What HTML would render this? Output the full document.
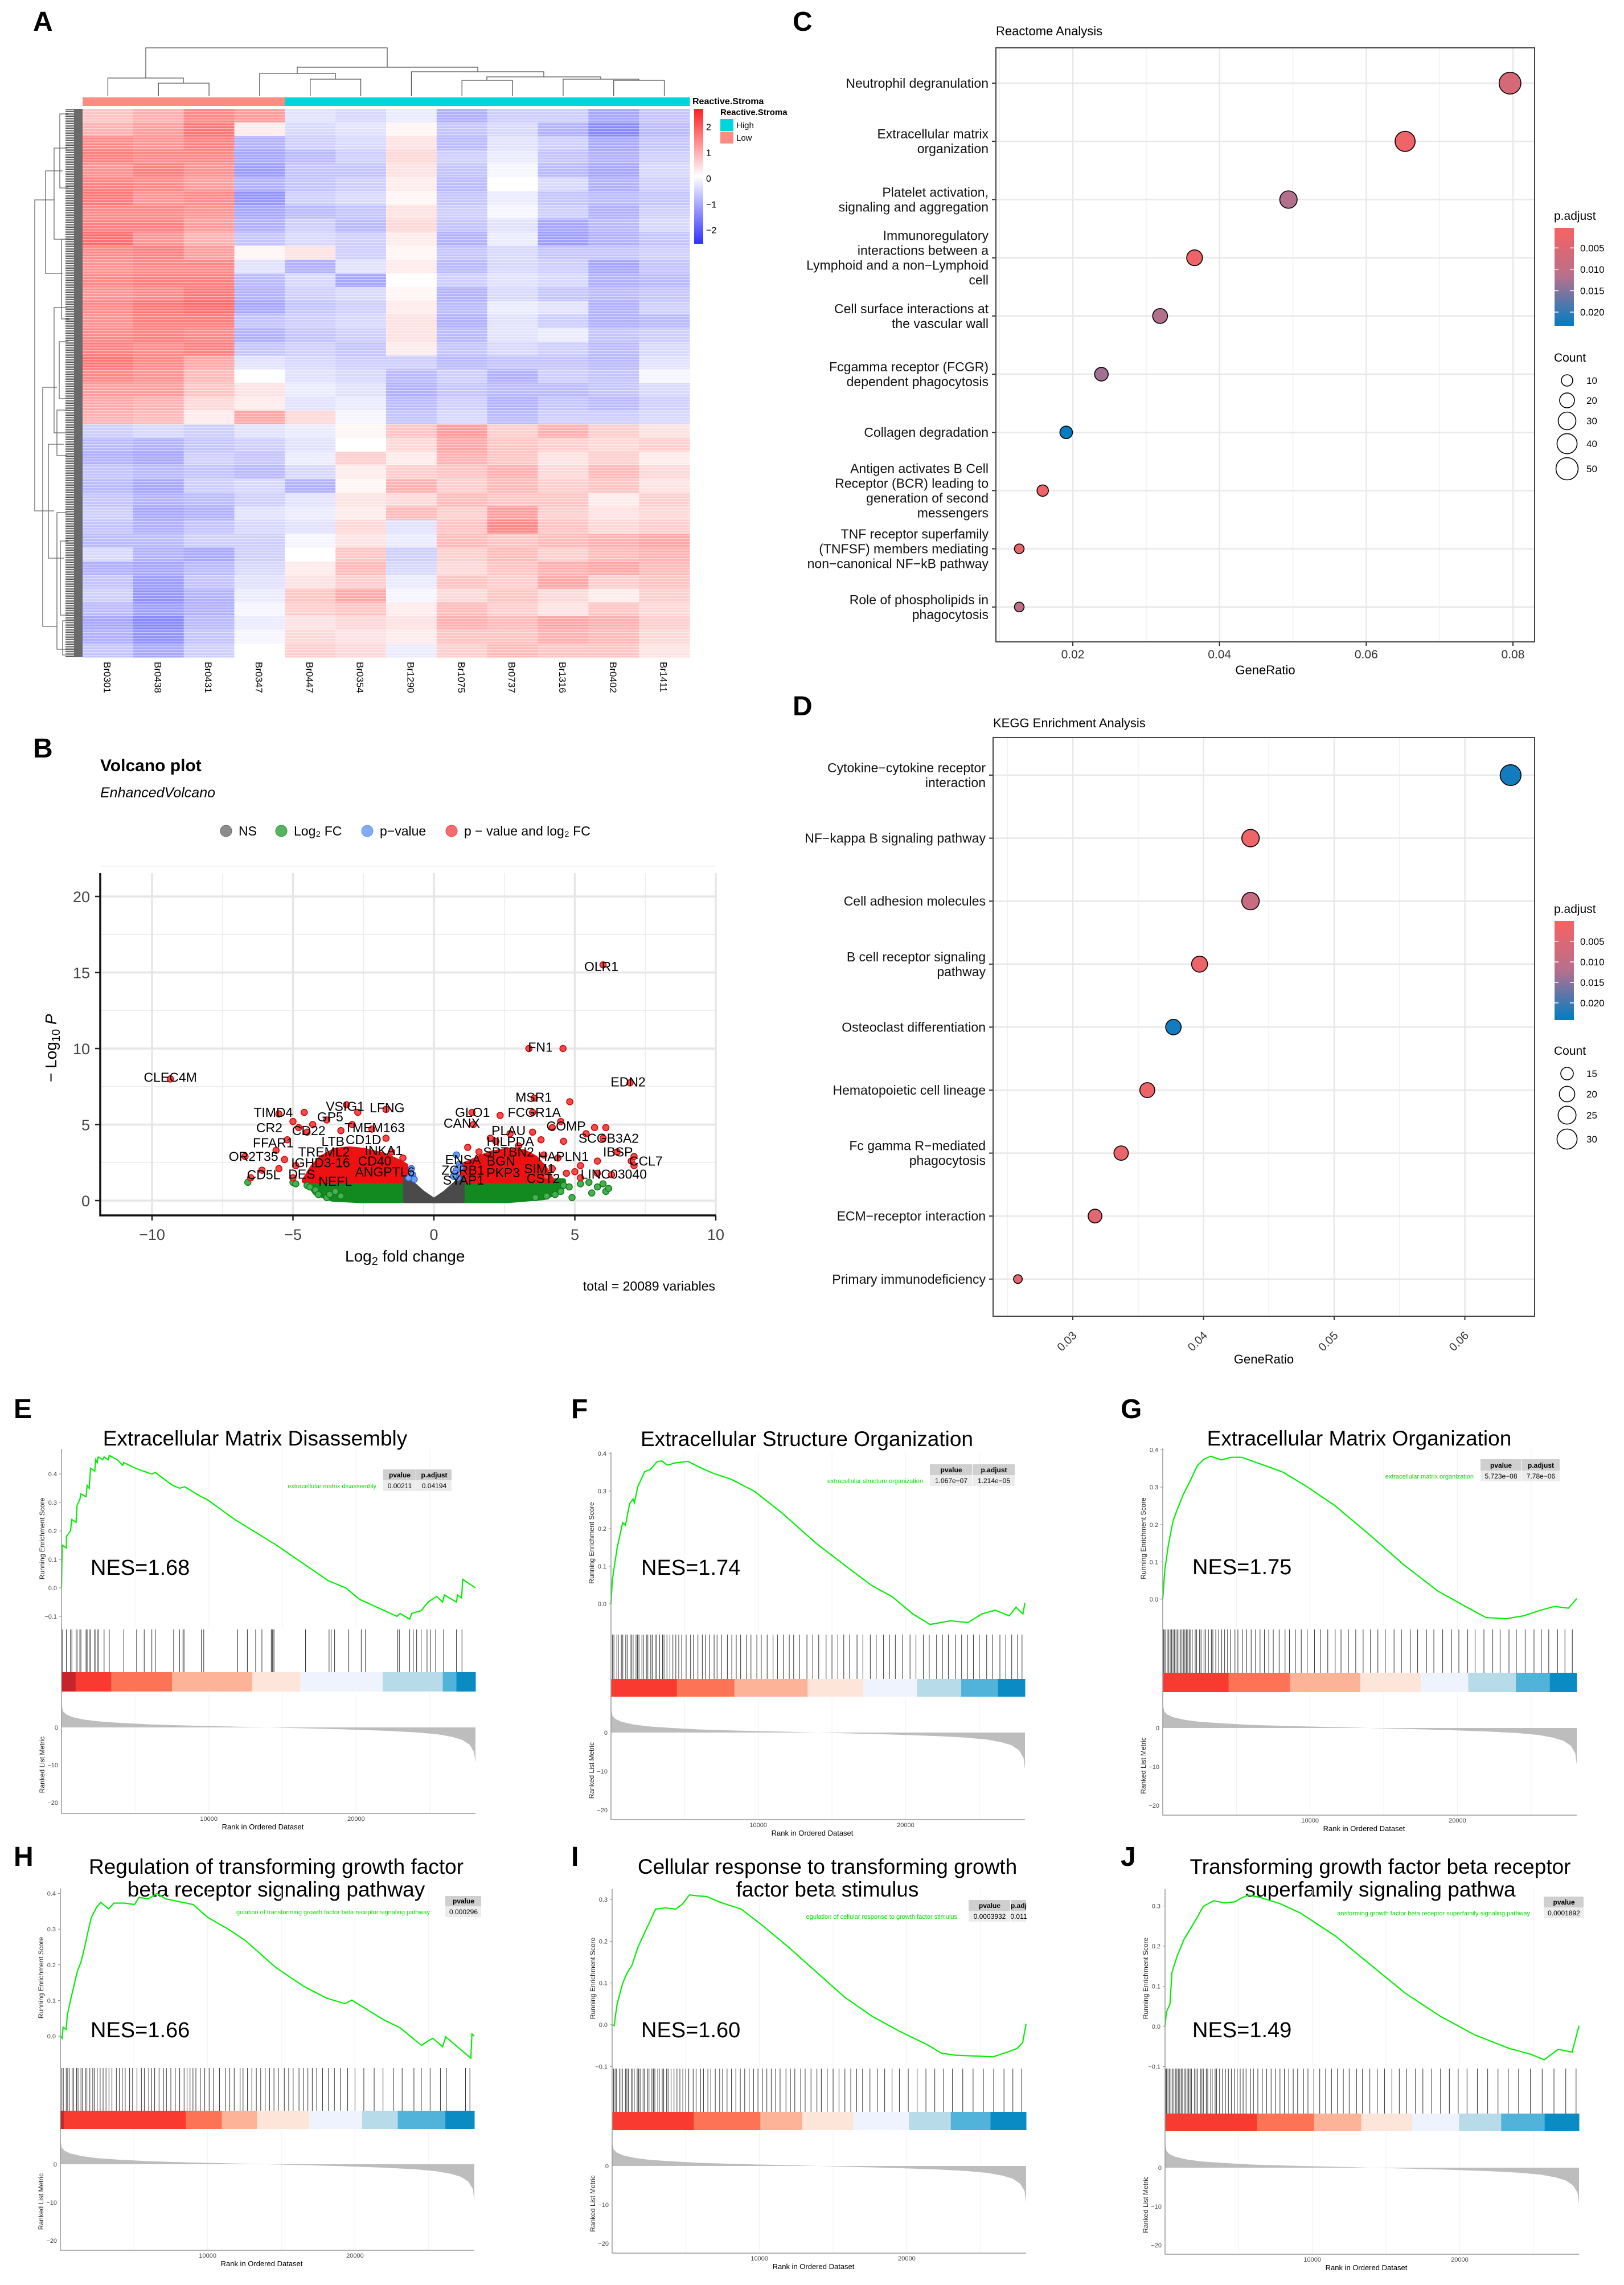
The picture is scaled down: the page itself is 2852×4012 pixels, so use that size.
<!DOCTYPE html>
<html><head><meta charset="utf-8">
<style>
html,body{margin:0;padding:0;background:#fff;}
svg{display:block;font-family:"Liberation Sans",Arial,sans-serif;}
</style></head>
<body>
<svg id="fig" xmlns="http://www.w3.org/2000/svg" width="2852" height="4012" viewBox="0 0 2852 4012">
<defs>
<pattern id="stripes" width="8" height="5" patternUnits="userSpaceOnUse"><rect x="0" y="0" width="8" height="1.5" fill="#fff" opacity="0.45"/></pattern>
<pattern id="leafLines" width="30" height="3" patternUnits="userSpaceOnUse"><rect x="0" y="0" width="30" height="1.6" fill="#555"/></pattern>
<linearGradient id="hmLegendGrad" x1="0" y1="0" x2="0" y2="1">
<stop offset="0" stop-color="#ff2020"/><stop offset="0.5" stop-color="#ffffff"/><stop offset="1" stop-color="#3030ff"/></linearGradient>
<linearGradient id="padjGrad" x1="0" y1="0" x2="0" y2="1">
<stop offset="0" stop-color="#f86262"/><stop offset="0.5" stop-color="#b6708c"/><stop offset="1" stop-color="#007dc3"/></linearGradient>
<clipPath id="volcClip"><rect x="176" y="1533" width="1081" height="601"/></clipPath>
</defs>
<rect x="0" y="0" width="2852" height="4012" fill="#fff"/>
<g font-weight="bold" font-size="48" fill="#000">
<text x="58" y="54">A</text>
<text x="58" y="1330">B</text>
<text x="1392" y="54">C</text>
<text x="1392" y="1256">D</text>
<text x="24" y="2490">E</text>
<text x="1003" y="2490">F</text>
<text x="1968" y="2490">G</text>
<text x="24" y="3276">H</text>
<text x="1003" y="3276">I</text>
<text x="1968" y="3276">J</text>
</g>
<g id="heatmap"></g>
<g id="volcano"></g>
<g id="dotC"></g>
<g id="dotD"></g>
<g id="gsea"></g>
</svg>
<script>
// ===================== DATA =====================
const hmCols=['Br0301','Br0438','Br0431','Br0347','Br0447','Br0354','Br1290','Br1075','Br0737','Br1316','Br0402','Br1411'];
const hmGroups=['Low','Low','Low','Low','High','High','High','High','High','High','High','High'];
const hmRows=[
[0.6,0.8,1.2,1.0,-0.3,-0.4,-0.2,-0.8,-0.5,-0.5,-0.9,-0.6],
[0.8,1.0,1.4,0.2,-0.4,-0.3,0.1,-0.6,-0.4,-0.8,-1.2,-0.7],
[1.2,1.1,1.3,-0.8,-0.5,-0.4,0.3,-0.7,-0.3,-0.5,-0.9,-0.6],
[1.3,1.2,1.2,-0.9,-0.7,-0.5,0.4,-0.5,-0.2,-0.6,-0.8,-0.5],
[1.1,1.3,1.1,-1.0,-0.6,-0.6,0.3,-0.6,-0.1,-0.7,-0.9,-0.4],
[1.3,1.2,1.0,-0.8,-0.6,-0.5,0.2,-0.7,0.0,-0.4,-0.8,-0.5],
[1.4,1.1,1.2,-1.1,-0.5,-0.4,0.1,-0.6,-0.2,-0.6,-0.7,-0.6],
[1.2,1.2,1.1,-0.9,-0.7,-0.6,0.3,-0.5,-0.1,-0.5,-0.8,-0.5],
[1.3,1.3,1.0,-0.8,-0.5,-0.7,0.4,-0.6,-0.3,-0.9,-0.7,-0.4],
[1.5,1.1,0.8,-0.6,-0.4,-0.5,0.2,-0.8,-0.2,-1.0,-0.8,-0.6],
[1.2,1.3,1.0,0.1,0.3,-0.5,0.1,-0.6,-0.4,-0.6,-0.6,-0.5],
[1.1,1.2,1.2,-0.3,-0.8,-0.3,0.2,-0.7,-0.4,-0.5,-0.9,-0.6],
[1.2,1.3,1.3,-0.7,-0.4,-0.9,0.0,-0.5,-0.3,-0.4,-0.8,-0.7],
[1.1,1.2,1.4,-0.8,-0.5,-0.4,0.1,-0.8,-0.4,-0.6,-0.7,-0.6],
[1.2,1.4,1.5,-0.9,-0.6,-0.5,0.2,-0.7,-0.2,-0.3,-0.8,-0.5],
[1.1,1.3,1.3,-0.6,-0.5,-0.4,0.3,-0.8,-0.3,-0.5,-0.8,-0.7],
[1.2,1.3,1.2,-0.8,-0.6,-0.5,0.3,-0.7,-0.3,-0.2,-0.6,-0.5],
[1.3,1.2,1.3,-0.6,-0.5,-0.6,0.2,-0.6,-0.4,-0.5,-0.7,-0.4],
[1.4,1.2,0.9,-0.3,-0.4,-0.5,-0.5,-0.7,-0.6,-0.6,-0.7,-0.3],
[1.2,1.1,0.7,0.0,-0.3,-0.4,-0.7,-0.5,-0.8,-0.5,-0.6,-0.1],
[1.0,1.0,0.6,0.3,-0.2,-0.3,-0.8,-0.6,-0.7,-0.7,-0.6,-0.4],
[0.9,0.8,0.4,0.2,-0.3,-0.2,-0.7,-0.5,-0.8,-0.6,-0.7,-0.5],
[0.8,0.7,0.2,0.9,0.4,-0.1,-0.6,-0.4,-0.7,-0.5,-0.5,-0.4],
[-0.5,-0.4,-0.5,-0.3,-0.2,0.1,0.6,1.0,0.5,0.8,0.5,0.3],
[-0.7,-0.8,-0.6,-0.5,-0.3,0.0,0.4,0.9,0.6,0.5,0.4,0.5],
[-0.8,-0.9,-0.5,-0.6,-0.2,0.5,0.2,0.8,0.6,0.3,0.5,0.2],
[-0.6,-0.7,-0.6,-0.7,-0.4,0.2,0.5,0.6,0.8,0.4,0.7,0.4],
[-0.7,-0.9,-0.5,-0.4,-0.8,0.1,0.8,0.5,0.7,0.5,0.6,0.3],
[-0.6,-0.8,-0.7,-0.5,-0.3,0.3,0.4,0.7,0.6,0.6,0.2,0.5],
[-0.5,-0.9,-0.8,-0.3,-0.2,0.2,0.7,0.5,1.0,0.5,0.3,0.4],
[-0.6,-0.8,-0.6,-0.4,-0.3,0.4,-0.3,0.6,1.2,0.6,0.4,0.5],
[-0.7,-0.7,-0.5,-0.5,-0.1,0.3,-0.2,0.7,0.6,0.7,0.8,0.9],
[-0.4,-0.8,-0.9,-0.5,0.0,0.6,-0.5,0.5,0.7,0.5,0.7,0.8],
[-0.8,-0.9,-0.7,-0.4,0.2,0.7,-0.4,0.4,0.6,0.8,0.9,0.7],
[-0.6,-1.0,-0.6,-0.3,0.3,0.5,-0.2,0.6,0.5,0.9,0.5,0.6],
[-0.5,-1.1,-0.8,-0.2,0.6,0.9,-0.1,0.4,0.6,0.4,0.2,0.5],
[-0.7,-1.0,-0.8,-0.1,0.5,0.6,0.2,0.7,0.5,0.3,0.6,0.4],
[-0.9,-1.2,-0.7,-0.2,0.3,0.4,0.3,0.8,0.7,0.9,0.8,0.5],
[-0.8,-1.1,-0.6,-0.1,0.4,0.3,0.2,0.6,0.6,0.8,0.7,0.4],
[-0.6,-0.9,-0.5,0.0,0.5,0.4,-0.2,0.5,0.7,0.6,0.6,0.3]
];
const hmLegendTicks=[2,1,0,-1,-2];

const volcXTicks=[-10,-5,0,5,10];
const volcYTicks=[0,5,10,15,20];
const greyEnvX=[-1,-1,-0.7,-0.4,0,0.4,0.7,1,1];
const greyEnvY=[0,1.5,1.0,0.5,0,0.5,1.0,1.5,0];
const greenEnvLX=[-1,-1,-4.5,-4.2,-3.6,-2.6];
const greenEnvLY=[0,1.3,1.3,0.5,0.1,0];
const greenEnvRX=[1,1,4.6,4.4,3.9,2.6];
const greenEnvRY=[0,1.3,1.3,0.6,0.2,0];
const redEnvLX=[-1,-1,-1.3,-1.8,-2.5,-3.0,-3.5,-4.0,-4.3,-4.5,-4.6];
const redEnvLY=[1.3,2.3,2.6,3.0,3.3,3.4,3.3,2.8,2.2,1.6,1.3];
const redEnvRX=[1,1,1.5,2.0,2.6,3.2,3.6,3.9,4.1,4.2];
const redEnvRY=[1.3,2.3,2.7,3.1,3.3,3.2,2.8,2.2,1.6,1.3];
const redPtX=[-9.35,6.0,3.37,4.58,6.96,3.56,4.82,-4.6,-5.5,-3.1,-2.7,-1.7,1.35,3.5,2.35,1.4,4.5,4.2,5.7,6.1,5.4,6.0,3.5,3.8,4.6,6.5,7.0,7.1,7.1,5.8,5.2,5.8,5.2,6.3,5.0,-6.5,-6.1,-5.5,-5.0,-6.7,-5.6,-5.2,-4.8,-5.0,-4.5,-4.3,-3.8,-3.3,-2.9,-2.2,-1.7,-1.5,-1.1,-5.3,-4.9,1.2,1.6,2.2,2.0,2.7,3.0,3.9,4.4,4.2,4.0,4.7];
const redPtY=[8.0,15.5,10,10,7.75,6.74,6.5,5.8,5.7,6.3,5.8,6.0,5.8,5.8,5.6,5.0,5.2,4.8,4.8,4.8,4.4,4.1,4.5,4.0,3.9,3.2,2.6,2.9,2.3,2.6,2.3,1.8,1.5,1.7,1.9,1.5,2.0,2.1,1.5,2.9,3.3,4.0,4.8,5.2,4.5,5.0,5.3,4.6,5.0,4.7,4.1,3.2,2.8,2.7,2.3,3.5,3.2,3.9,4.1,4.4,3.6,3.0,2.8,2.1,1.6,1.8];
const greenPtX=[-6.6,-5.0,-4.9,-4.2,-4.1,-3.8,-3.7,-3.5,-3.3,5.2,5.5,5.8,6.0,6.1,6.2,5.6,4.8,4.6,4.5,4.3,4.9,4.0,3.6,-4.5,-4.4];
const greenPtY=[1.2,1.2,1.1,0.7,0.4,0.2,0.4,0.6,0.3,1.1,1.2,0.9,1.1,0.6,0.8,0.5,0.9,1.0,0.6,0.4,0.2,0.3,0.2,1.0,0.9];
const bluePtX=[-0.8,-0.75,-0.7,-0.9,0.8,0.9,0.8,0.75,0.85,0.95,0.7];
const bluePtY=[2.1,1.7,1.4,1.5,3.0,2.4,2.0,1.8,1.5,2.2,1.6];
const geneLabels=['OLR1','FN1','CLEC4M','EDN2','MSR1','GLO1','FCGR1A','VSIG1','LFNG','TIMD4','GP5','CANX','CR2','CD22','TMEM163','COMP','PLAU','SCGB3A2','FFAR1','LTB','CD1D','HILPDA','TREML2','INKA1','SPTBN2','IBSP','OR2T35','HAPLN1','IGHD3-16','CD40','ENSA','BGN','CCL7','SIM1','ZCRB1','PKP3','ANGPTL6','CD5L','DES','LINC03040','NEFL','CST2','SYAP1'];
const geneLabX=[5.94,3.78,-9.35,6.89,3.54,1.37,3.56,-3.15,-1.66,-5.7,-3.68,0.99,-5.84,-4.44,-2.1,4.69,2.65,6.2,-5.7,-3.58,-2.5,2.71,-3.9,-1.78,2.65,6.53,-6.4,4.59,-4.02,-2.1,1.03,2.38,7.52,3.74,1.03,2.46,-1.74,-6.04,-4.69,6.38,-3.5,3.88,1.05];
const geneLabY=[15.4,10.1,8.1,7.8,6.8,5.8,5.8,6.2,6.1,5.8,5.5,5.1,4.8,4.6,4.8,4.9,4.6,4.1,3.8,3.9,4.0,3.9,3.2,3.3,3.2,3.2,2.9,2.9,2.5,2.6,2.7,2.6,2.6,2.1,2.0,1.84,1.9,1.7,1.75,1.75,1.27,1.46,1.35];

const cTerms=['Neutrophil degranulation','Extracellular matrix\norganization','Platelet activation,\nsignaling and aggregation','Immunoregulatory\ninteractions between a\nLymphoid and a non\u2212Lymphoid\ncell','Cell surface interactions at\nthe vascular wall','Fcgamma receptor (FCGR)\ndependent phagocytosis','Collagen degradation','Antigen activates B Cell\nReceptor (BCR) leading to\ngeneration of second\nmessengers','TNF receptor superfamily\n(TNFSF) members mediating\nnon\u2212canonical NF\u2212kB pathway','Role of phospholipids in\nphagocytosis'];
const cRatio=[0.0796,0.0653,0.0494,0.0366,0.0319,0.0239,0.0191,0.0159,0.0127,0.0127];
const cCount=[48,40,29,23,20,16,13,10,6,6];
const cPadj=[0.006,0.002,0.012,0.002,0.012,0.013,0.023,0.002,0.003,0.010];
const cXTicks=[0.02,0.04,0.06,0.08];
const cPTicks=[0.005,0.010,0.015,0.020];
const cCountTicks=[10,20,30,40,50];

const dTerms=['Cytokine\u2212cytokine receptor\ninteraction','NF\u2212kappa B signaling pathway','Cell adhesion molecules','B cell receptor signaling\npathway','Osteoclast differentiation','Hematopoietic cell lineage','Fc gamma R\u2212mediated\nphagocytosis','ECM\u2212receptor interaction','Primary immunodeficiency'];
const dRatio=[0.0635,0.0436,0.0436,0.0397,0.0377,0.0357,0.0337,0.0317,0.0258];
const dCount=[32,24,24,21,20,19,18,17,10];
const dPadj=[0.023,0.002,0.009,0.002,0.023,0.002,0.003,0.004,0.003];
const dXTicks=[0.03,0.04,0.05,0.06];
const dPTicks=[0.005,0.010,0.015,0.020];
const dCountTicks=[15,20,25,30];

const metricRank=[0,100,300,700,1500,2500,4000,6000,9000,12000,14000,16000,19000,22000,24000,25500,26500,27200,27700,28000,28100];
const metricVal=[6.2,4.3,3.5,2.8,2.1,1.6,1.2,0.8,0.45,0.2,0.0,-0.2,-0.5,-0.9,-1.3,-1.8,-2.5,-3.3,-4.6,-6.5,-9.5];
const rankTicks=[10000,20000];
const segColors=['#c5242a','#f83a30','#fc7455','#fcb398','#fee5d9','#eef3fd','#b8dbea','#52b3da','#0a8bc4'];

// E (hits in raw ranks)
const esRankE=[0,47,329,329,611,705,987,1057,1245,1316,1668,1739,1880,1974,2256,2326,2420,2491,2796,2890,3172,3242,3783,4159,4229,5028,5545,6133,6368,7542,8012,8365,9492,9892,11771,14591,16564,18115,19290,20230,22767,22979,23637,23754,24412,24882,25469,25869,25986,26809,26879,27161,27231,28100];
const esValE=[0,0.15,0.14,0.18,0.2,0.24,0.23,0.29,0.31,0.33,0.32,0.36,0.35,0.42,0.41,0.45,0.44,0.46,0.45,0.46,0.45,0.465,0.45,0.43,0.44,0.42,0.41,0.40,0.405,0.36,0.35,0.355,0.32,0.31,0.24,0.15,0.08,0.025,0.0,-0.04,-0.1,-0.09,-0.11,-0.09,-0.08,-0.05,-0.03,-0.05,-0.025,-0.05,-0.025,-0.035,0.03,0.0];
const hitsE=[47,329,611,705,987,1057,1245,1316,1668,1739,1880,1974,2256,2326,2420,2491,2890,3242,4229,5098,5615,6132,6367,7612,8012,8247,8317,9492,9656,11959,12617,13181,13604,14238,14309,14356,14426,16564,18162,18303,18538,19501,20347,20629,22814,22931,23636,23871,24106,24411,24811,25046,25398,25938,26808,27184];
const segE=[0,0.034,0.120,0.267,0.460,0.576,0.776,0.921,0.954,1];
// F (hits in hundreds of ranks)
const esRankF=[0,93,420,793,980,1260,1494,1587,1821,2287,2661,3128,3455,3828,4388,5228,6022,6955,8122,9756,11623,13957,16291,17692,19092,20493,21660,23060,24227,25161,26094,27028,27495,27962,28100];
const esValF=[0,0.064,0.15,0.216,0.209,0.266,0.279,0.269,0.312,0.352,0.357,0.378,0.38,0.369,0.375,0.379,0.363,0.347,0.332,0.299,0.241,0.16,0.09,0.049,0.019,-0.027,-0.055,-0.045,-0.05,-0.027,-0.017,-0.032,-0.009,-0.027,0.003];
const hitsF=[1,2,4,5,7,8,10,11,13,14,15,17,18,19,21,22,24,25,27,28,30,31,33,35,36,38,40,42,44,46,48,51,54,56,59,62,64,67,70,72,75,79,82,85,88,92,95,99,102,106,110,113,117,121,124,128,133,137,141,146,150,154,158,162,167,171,176,180,185,189,193,198,203,207,212,216,221,225,229,234,238,242,246,250,255,259,264,268,272,276,279];
const segF=[0,0.159,0.298,0.475,0.609,0.739,0.846,0.935,1];
const esRankG=[0,140,373,700,1027,1400,1867,2334,2801,3268,3968,4668,5368,6068,7002,8169,9803,11670,14004,16338,18672,20539,21939,23340,24507,25674,26607,27541,28100];
const esValG=[0,0.078,0.144,0.21,0.245,0.281,0.317,0.357,0.375,0.383,0.373,0.38,0.38,0.37,0.357,0.34,0.301,0.251,0.174,0.093,0.022,-0.019,-0.049,-0.052,-0.044,-0.029,-0.019,-0.024,0.002];
const hitsG=[0.5,1,2,3,4,5,6,7,8,9,10,11,12,13,14,15,16,17,18,19,20,22,23,25,26,28,29,31,33,34,36,38,40,42,44,46,49,51,54,57,60,63,66,69,72,75,79,83,86,90,94,98,103,107,112,117,121,126,131,136,141,146,151,157,162,168,173,179,184,190,196,201,207,212,218,224,229,235,240,246,252,257,262,268,273,278];
const segG=[0,0.159,0.307,0.477,0.623,0.738,0.853,0.935,1];
const esRankH=[0,117,187,398,468,703,937,1171,1405,1639,1873,2108,2459,2740,3278,3630,4332,5035,5339,5972,6557,7143,8079,9016,10000,11357,12528,14636,16509,18031,19318,19787,20958,21895,23066,24518,24939,25290,25946,26157,27866,27936,28100];
const esValH=[0,-0.006,0.025,0.019,0.059,0.103,0.144,0.184,0.208,0.248,0.293,0.333,0.361,0.375,0.357,0.373,0.373,0.369,0.389,0.385,0.4,0.385,0.377,0.369,0.333,0.301,0.269,0.192,0.14,0.107,0.091,0.101,0.071,0.047,0.023,-0.026,-0.014,-0.006,-0.03,-0.002,-0.062,0.006,0];
const hitsH=[1,2,4,5,6,8,9,11,12,14,15,17,18,20,22,23,25,27,29,31,33,35,38,40,42,44,47,49,52,55,57,60,62,64,67,70,72,75,78,81,84,86,88,90,92,95,98,101,104,108,112,115,118,122,124,127,130,133,136,139,142,145,148,152,155,158,162,165,168,171,174,178,182,186,190,195,200,206,213,219,226,232,240,245,251,258,262,275,278];
const segH=[0,0.008,0.303,0.39,0.475,0.6,0.729,0.815,0.93,1];
const esRankI=[0,140,328,702,1030,1358,1733,2201,2576,2950,3606,4308,4776,5245,5713,6415,7352,8757,10161,12034,13908,15781,17654,19527,21400,22337,23273,24678,25849,26786,27488,27863,28100];
const esValI=[0,-0.002,0.048,0.098,0.125,0.143,0.184,0.22,0.248,0.277,0.28,0.277,0.289,0.311,0.309,0.307,0.293,0.277,0.239,0.184,0.125,0.066,0.02,-0.016,-0.048,-0.068,-0.073,-0.075,-0.077,-0.066,-0.057,-0.043,0.002];
const hitsI=[1,2,3,5,6,7,9,10,11,13,14,15,17,18,19,21,22,24,25,27,28,29,31,32,34,35,37,38,40,42,44,46,48,50,52,55,57,60,62,65,67,70,73,75,78,81,84,87,90,93,96,99,102,105,108,111,114,118,121,124,128,131,135,139,142,146,150,154,158,162,166,170,175,180,185,190,195,201,207,213,219,225,231,238,245,252,259,266,272,278];
const segI=[0,0.197,0.358,0.459,0.582,0.717,0.818,0.914,1];
const esRankJ=[0,94,330,472,803,1275,1653,2125,2598,3306,4015,4723,5195,5668,6376,7793,9210,11571,13933,16294,18656,21018,23379,24796,25741,26685,27630,28100];
const esValJ=[0,0.036,0.055,0.135,0.173,0.216,0.239,0.268,0.299,0.313,0.308,0.31,0.32,0.327,0.322,0.306,0.282,0.225,0.154,0.083,0.026,-0.021,-0.055,-0.069,-0.083,-0.057,-0.064,0.002];
const hitsJ=[0.5,1,2,3,4,5,6,7,8,9,10,11,12,13,14,15,16,17,18,20,21,22,24,25,26,28,29,31,32,34,35,37,39,41,43,45,47,49,51,53,55,58,60,63,66,69,72,75,78,81,84,87,90,94,97,101,105,109,113,117,121,125,130,134,139,144,149,154,159,164,170,175,181,187,193,199,205,212,219,226,233,240,248,256,264,272,279];
const segJ=[0,0.222,0.360,0.474,0.597,0.710,0.812,0.917,1];

// ===================== HELPERS =====================
const NS='http://www.w3.org/2000/svg';
function mk(tag,attrs,parent){const e=document.createElementNS(NS,tag);for(const k in attrs)e.setAttribute(k,attrs[k]);parent.appendChild(e);return e;}
function tx(str,attrs,parent){const e=mk('text',attrs,parent);e.textContent=str;return e;}
function hmColor(v){let t=Math.max(-1,Math.min(1,v/2.6));
 if(t>=0){const c=Math.round(255*(1-t));return 'rgb(255,'+c+','+c+')';}
 const c=Math.round(255*(1+t));return 'rgb('+c+','+c+',255)';}
function padjColor(p,pmin,pmax){let t=Math.max(0,Math.min(1,(p-pmin)/(pmax-pmin)));
 const s=[[248,98,98],[182,112,140],[0,125,195]];let a,b,u;
 if(t<0.5){a=s[0];b=s[1];u=t/0.5;}else{a=s[1];b=s[2];u=(t-0.5)/0.5;}
 return 'rgb('+a.map((x,i)=>Math.round(x+(b[i]-x)*u)).join(',')+')';}

// ===================== HEATMAP =====================
(function(){
const g=document.getElementById('heatmap');
const X0=145,X1=1211,Y0=191,Y1=1154;
const cw=(X1-X0)/hmCols.length, rh=(Y1-Y0)/hmRows.length;
const colX=i=>X0+cw*(i+0.5);
hmRows.forEach((row,r)=>{row.forEach((v,c)=>{
 const el=mk('rect',{x:X0+c*cw,y:Y0+r*rh,width:cw+0.5,height:rh+0.5,fill:hmColor(v)},g);
 
 
});});
let el=mk('rect',{x:X0,y:Y0,width:X1-X0,height:Y1-Y0,fill:'url(#stripes)'},g);


hmGroups.forEach((gr,c)=>{
 const a=mk('rect',{x:X0+c*cw,y:171,width:cw+0.5,height:15,fill:gr==='Low'?'#fa8c82':'#00d5dc'},g);
 
 
});
hmCols.forEach((nm,c)=>{
 const t=tx(nm,{x:colX(c)-7,y:1162,'font-size':17,transform:'rotate(90 '+(colX(c)-7)+' 1162)'},g);
 
 
});
const den=[[colX(1),colX(2),146,169,169],[colX(0),322,137,169,146],[colX(4),colX(5),139,169,169],[colX(3),589,129,169,139],[colX(7),colX(8),141,169,169],[colX(10),colX(11),141,169,169],[colX(9),1122,139,169,141],[855,1055,135,141,139],[colX(6),955,126,169,135],[522,839,118,129,126],[256,680,84,137,118]];
den.forEach(d=>{
 const p=mk('path',{d:'M'+d[0]+' '+d[3]+'V'+d[2]+'H'+d[1]+'V'+d[4],fill:'none',stroke:'#555','stroke-width':1.3},g);
 
 
});
const rd=mk('rect',{x:115,y:Y0,width:30,height:Y1-Y0,fill:'url(#leafLines)'},g);


const rd2=mk('rect',{x:130,y:Y0,width:15,height:Y1-Y0,fill:'#6a6a6a'},g);


const rdl=[[61,351,897,95],[95,260,420,118],[95,540,760,118],[75,680,1100,100],[100,720,800,118],[100,900,1140,118],[80,300,480,110],[85,780,980,112],[105,200,330,120],[108,420,560,122],[104,600,700,120],[106,950,1080,120],[110,1090,1150,124]];
rdl.forEach(d=>{
 const p=mk('path',{d:'M'+d[3]+' '+d[1]+'H'+d[0]+'V'+d[2]+'H'+d[3],fill:'none',stroke:'#666','stroke-width':1.3},g);
 
 
});
const lt=tx('Reactive.Stroma',{x:1216,y:183,'font-size':16,'font-weight':'bold'},g);


const cb=mk('rect',{x:1219,y:191,width:16,height:237,fill:'url(#hmLegendGrad)'},g);


hmLegendTicks.forEach(v=>{
 const y=313-v*45.3;
 const t=tx(String(v).replace('-','\u2212'),{x:1240,y:y+6,'font-size':16},g);
 
 
});
const lt2=tx('Reactive.Stroma',{x:1265,y:202,'font-size':15,'font-weight':'bold'},g);


[['High','#00d5dc',209],['Low','#fa8c82',231]].forEach(e=>{
 const r=mk('rect',{x:1265,y:e[2],width:23,height:21,fill:e[1]},g);
 
 
 const t=tx(e[0],{x:1293,y:e[2]+16,'font-size':15},g);
 
 
});
})();

// ===================== VOLCANO =====================
(function(){
const g=document.getElementById('volcano');
const sx=v=>762+v*49.5, sy=v=>2108-v*26.7;
let e;
e=tx('Volcano plot',{x:176,y:1354,'font-size':30,'font-weight':'bold'},g);

e=tx('EnhancedVolcano',{x:176,y:1400,'font-size':25,'font-style':'italic'},g);

const leg=[['NS','#666666',397],['Log\u2082 FC','#1e9a2e',494],['p\u2212value','#5b8ef0',645],['p \u2212 value and log\u2082 FC','#f23b3b',793]];
leg.forEach(l=>{
 const c=mk('circle',{cx:l[2],cy:1459,r:10,fill:l[1],'fill-opacity':0.75,stroke:l[1]},g);
 
 const t=tx(l[0],{x:l[2]+22,y:1467,'font-size':23},g);
 
});
[-7.5,-2.5,2.5,7.5].forEach(v=>{e=mk('line',{x1:sx(v),x2:sx(v),y1:1533,y2:2134,stroke:'#ececec','stroke-width':1.5},g);
 });
[2.5,7.5,12.5,17.5,22].forEach(v=>{e=mk('line',{x1:176,x2:1257,y1:sy(v),y2:sy(v),stroke:'#ececec','stroke-width':1.5},g);
 });
volcXTicks.forEach(v=>{e=mk('line',{x1:sx(v),x2:sx(v),y1:1533,y2:2134,stroke:'#e6e6e6','stroke-width':3.5},g);
 
 e=mk('line',{x1:sx(v),x2:sx(v),y1:2134,y2:2143,stroke:'#222','stroke-width':2.5},g);
 
 e=tx(String(v).replace('-','\u2212'),{x:sx(v),y:2177,'font-size':27,'text-anchor':'middle',fill:'#444'},g);
 });
volcYTicks.forEach(v=>{e=mk('line',{x1:176,x2:1257,y1:sy(v),y2:sy(v),stroke:'#e6e6e6','stroke-width':3.5},g);
 
 e=mk('line',{x1:167,x2:176,y1:sy(v),y2:sy(v),stroke:'#222','stroke-width':2.5},g);
 
 e=tx(String(v),{x:158,y:sy(v)+10,'font-size':27,'text-anchor':'end',fill:'#444'},g);
 });
const cg=mk('g',{'clip-path':'url(#volcClip)'},g);

function env(xs,ys,col,name){const pts=xs.map((x,i)=>sx(x)+','+sy(ys[i])).join(' ');
 const p=mk('polygon',{points:pts,fill:col,stroke:col,'stroke-width':9,'stroke-linejoin':'round'},cg);
 }
env(greenEnvLX,greenEnvLY,'#138a1f','ns-fc-cloud-left');
env(greenEnvRX,greenEnvRY,'#138a1f','ns-fc-cloud-right');
env(redEnvLX,redEnvLY,'#ee1111','sig-cloud-left');
env(redEnvRX,redEnvRY,'#ee1111','sig-cloud-right');
env(greyEnvX,greyEnvY,'#4a4a4a','ns-cloud');
function pts(xs,ys,fill,stroke,name){xs.forEach((x,i)=>{
 const c=mk('circle',{cx:sx(x),cy:sy(ys[i]),r:5.5,fill:fill,stroke:stroke,'stroke-width':1.5},cg);
 });}
pts(greenPtX,greenPtY,'#44b04f','#107a1a','point-log2fc');
pts(bluePtX,bluePtY,'#6e9cf2','#2c62d8','point-pvalue');
pts(redPtX,redPtY,'#f54a4a','#d40000','point-significant');
geneLabels.forEach((nm,i)=>{
 const t=tx(nm,{x:sx(geneLabX[i]),y:sy(geneLabY[i])+8,'font-size':23,'text-anchor':'middle',fill:'#000'},g);
 });
e=mk('path',{d:'M176 1533V2134H1257',fill:'none',stroke:'#111','stroke-width':3.5},g);

e=tx('Log',{x:606,y:2215,'font-size':28},g);
const s1=mk('tspan',{'font-size':20,dy:6},e);s1.textContent='2';
const s2=mk('tspan',{dy:-6},e);s2.textContent=' fold change';

e=tx('\u2212 Log',{x:0,y:0,'font-size':28,transform:'translate(99 1900) rotate(-90)'},g);
const s3=mk('tspan',{'font-size':20,dy:6},e);s3.textContent='10';
const s4=mk('tspan',{dy:-6,'font-style':'italic'},e);s4.textContent=' P';

e=tx('total = 20089 variables',{x:1256,y:2266,'font-size':23,'text-anchor':'end'},g);

})();

// ===================== DOT PLOTS =====================
function dotPlot(gid,cfg,terms,ratio,count,padj,xTicks,pTicks,countTicks){
 const g=document.getElementById(gid);let e;
 const sx=v=>cfg.x0+(v-cfg.v0)*cfg.k;
 const sy=i=>cfg.r0+i*cfg.rs;
 e=tx(cfg.title,{x:cfg.L,y:cfg.titleY,'font-size':22},g);
 
 e=mk('rect',{x:cfg.L,y:cfg.T,width:cfg.R-cfg.L,height:cfg.B-cfg.T,fill:'#fff'},g);
 
 cfg.minor.forEach(v=>{e=mk('line',{x1:sx(v),x2:sx(v),y1:cfg.T,y2:cfg.B,stroke:'#f0f0f0','stroke-width':1.5},g);
  });
 xTicks.forEach(v=>{e=mk('line',{x1:sx(v),x2:sx(v),y1:cfg.T,y2:cfg.B,stroke:'#e8e8e8','stroke-width':2.5},g);
  
  e=mk('line',{x1:sx(v),x2:sx(v),y1:cfg.B,y2:cfg.B+7,stroke:'#333','stroke-width':2},g);
  
  if(cfg.rot){e=tx(v.toFixed(2),{x:sx(v)+8,y:cfg.tickY,'font-size':20,'text-anchor':'end',fill:'#333',transform:'rotate(-45 '+(sx(v)+8)+' '+cfg.tickY+')'},g);}
  else{e=tx(v.toFixed(2),{x:sx(v),y:cfg.tickY,'font-size':21,'text-anchor':'middle',fill:'#333'},g);}
  });
 terms.forEach((t,i)=>{const y=sy(i);
  e=mk('line',{x1:cfg.L,x2:cfg.R,y1:y,y2:y,stroke:'#e8e8e8','stroke-width':2.5},g);
  
  e=mk('line',{x1:cfg.L-7,x2:cfg.L,y1:y,y2:y,stroke:'#333','stroke-width':2},g);
  
  const lines=t.split('\n');const lh=26;
  lines.forEach((ln,j)=>{const ty=y+8+(j-(lines.length-1)/2)*lh;
   e=tx(ln,{x:cfg.L-13,y:ty,'font-size':23,'text-anchor':'end',fill:'#111'},g);
   });
 });
 ratio.forEach((v,i)=>{const r=Math.sqrt(Math.max(cfg.a+cfg.b*(count[i]-cfg.c0),30));
  e=mk('circle',{cx:sx(v),cy:sy(i),r:r,fill:padjColor(padj[i],cfg.pmin,cfg.pmax),stroke:'#000','stroke-width':1.6},g);
  });
 e=mk('rect',{x:cfg.L,y:cfg.T,width:cfg.R-cfg.L,height:cfg.B-cfg.T,fill:'none',stroke:'#444','stroke-width':2},g);
 
 e=tx('GeneRatio',{x:(cfg.L+cfg.R)/2,y:cfg.xTitleY,'font-size':22,'text-anchor':'middle'},g);
 
 e=tx('p.adjust',{x:2729,y:cfg.pT-14,'font-size':21},g);
 
 e=mk('rect',{x:2730,y:cfg.pT,width:34,height:cfg.pB-cfg.pT,fill:'url(#padjGrad)'},g);
 
 const py=p=>cfg.pT+(p-cfg.pmin)/(cfg.pmax-cfg.pmin)*(cfg.pB-cfg.pT);
 pTicks.forEach(p=>{
  e=mk('line',{x1:2730,x2:2737,y1:py(p),y2:py(p),stroke:'#fff','stroke-width':1.5},g);
  
  e=mk('line',{x1:2757,x2:2764,y1:py(p),y2:py(p),stroke:'#fff','stroke-width':1.5},g);
  
  e=tx(p.toFixed(3),{x:2775,y:py(p)+6,'font-size':17},g);
  });
 e=tx('Count',{x:2729,y:cfg.cT,'font-size':21},g);
 
 countTicks.forEach((c,i)=>{const r=Math.sqrt(Math.max(cfg.a+cfg.b*(c-cfg.c0),30));const y=cfg.cY[i];
  e=mk('circle',{cx:2752,cy:y,r:r,fill:'none',stroke:'#000','stroke-width':1.6},g);
  
  e=tx(String(c),{x:2786,y:y+6,'font-size':17},g);
  });
}
dotPlot('dotC',{title:'Reactome Analysis',titleY:62,L:1749,R:2695,T:84,B:1127,x0:1884,v0:0.02,k:12883,r0:146,rs:102.2,
 minor:[0.01,0.03,0.05,0.07],tickY:1156,xTitleY:1184,pmin:0.0003,pmax:0.0232,pT:400,pB:572,cT:635,cY:[668,703,739,779,823],a:100,b:7,c0:10,rot:false},
 cTerms,cRatio,cCount,cPadj,cXTicks,cPTicks,cCountTicks);
dotPlot('dotD',{title:'KEGG Enrichment Analysis',titleY:1277,L:1744,R:2695,T:1295,B:2311,x0:1884,v0:0.03,k:22950,r0:1361,rs:110.6,
 minor:[0.025,0.035,0.045,0.055],tickY:2346,xTitleY:2394,pmin:0,pmax:0.0242,pT:1617,pB:1791,cT:1852,cY:[1885,1921,1958,2000],a:121,b:12.6,c0:15,rot:true},
 dTerms,dRatio,dCount,dPadj,dXTicks,dPTicks,dCountTicks);

// ===================== GSEA =====================
const NTOT=28100;
function gsea(cfg,esR,esV,hits,hitUnit,segs,firstDark){
 const g=document.getElementById('gsea');let e;
 const W=727, rx=r=>cfg.ox+r/NTOT*W;
 const ey=v=>cfg.y0-v*cfg.k;
 const my=v=>cfg.z-v*cfg.mk;
 const pg=mk('g',{},g);
 
 cfg.title.forEach((ln,j)=>{e=tx(ln,{x:cfg.tx,y:cfg.ty+j*40,'font-size':37,'text-anchor':'middle'},pg);
  });
 [5000,10000,15000,20000,25000].forEach(r=>{
  e=mk('line',{x1:rx(r),x2:rx(r),y1:cfg.top,y2:cfg.bot,stroke:'#f3f3f3','stroke-width':1.2},pg);
  
  e=mk('line',{x1:rx(r),x2:rx(r),y1:cfg.bT,y2:cfg.bB,stroke:'#f3f3f3','stroke-width':1.2},pg);
  });
 [-0.1,0,0.1,0.2,0.3,0.4].forEach(v=>{const y=ey(v);if(y<cfg.top-2||y>cfg.bot)return;
  e=tx(v.toFixed(1).replace('-','\u2212'),{x:cfg.ox-8,y:y+4,'font-size':11,'text-anchor':'end',fill:'#444'},pg);
  
  e=mk('line',{x1:cfg.ox-4,x2:cfg.ox,y1:y,y2:y,stroke:'#888'},pg);
  });
 e=tx('Running Enrichment Score',{x:0,y:0,'font-size':12,'text-anchor':'middle',fill:'#222',transform:'translate('+(cfg.ox-30)+' '+((cfg.top+cfg.bot)/2)+') rotate(-90)'},pg);
 
 e=mk('path',{d:esR.map((r,i)=>(i?'L':'M')+rx(r).toFixed(1)+' '+ey(esV[i]).toFixed(1)).join(''),fill:'none',stroke:'#00f000','stroke-width':2.2},pg);
 
 hits.forEach(h=>{const r=h*hitUnit;
  e=mk('line',{x1:rx(r),x2:rx(r),y1:cfg.bot+2,y2:cfg.rugB,stroke:'#000','stroke-width':1.1,'stroke-opacity':0.75},pg);
  });
 const cols=firstDark?segColors:segColors.slice(1);
 for(let i=0;i<segs.length-1;i++){
  e=mk('rect',{x:rx(segs[i]*NTOT),y:cfg.rugB,width:rx(segs[i+1]*NTOT)-rx(segs[i]*NTOT)+0.5,height:cfg.colB-cfg.rugB,fill:cols[i]},pg);
  }
 const mp='M'+rx(0)+' '+my(0)+metricRank.map((r,i)=>'L'+rx(r).toFixed(1)+' '+my(metricVal[i]).toFixed(1)).join('')+'L'+rx(NTOT)+' '+my(0)+'Z';
 e=mk('path',{d:mp,fill:'#bdbdbd'},pg);
 
 [0,-10,-20].forEach(v=>{
  e=tx(String(v).replace('-','\u2212'),{x:cfg.ox-6,y:my(v)+4,'font-size':11,'text-anchor':'end',fill:'#444'},pg);
  });
 e=tx('Ranked List Metric',{x:0,y:0,'font-size':12,'text-anchor':'middle',fill:'#222',transform:'translate('+(cfg.ox-30)+' '+((cfg.bT+cfg.bB)/2+20)+') rotate(-90)'},pg);
 
 e=mk('path',{d:'M'+cfg.ox+' '+cfg.top+'V'+cfg.bB+'H'+(cfg.ox+W),fill:'none',stroke:'#999','stroke-width':1.5},pg);
 
 rankTicks.forEach(r=>{e=tx(String(r),{x:rx(r),y:cfg.bB+13,'font-size':11,'text-anchor':'middle',fill:'#444'},pg);
  });
 e=tx('Rank in Ordered Dataset',{x:cfg.ox+W/2-10,y:cfg.bB+28,'font-size':13,'text-anchor':'middle'},pg);
 
 e=tx(cfg.nes,{x:cfg.nx,y:cfg.ny+14,'font-size':38},pg);
 
 const T=cfg.tab;
 T.cols.forEach((c,i)=>{
  e=mk('rect',{x:T.xs[i],y:T.y0,width:T.xs[i+1]-T.xs[i]-1,height:T.y1-T.y0,fill:'#cfcfcf'},pg);
  
  e=mk('rect',{x:T.xs[i],y:T.y1,width:T.xs[i+1]-T.xs[i]-1,height:T.y2-T.y1,fill:'#ececec'},pg);
  
  e=tx(c,{x:(T.xs[i]+T.xs[i+1])/2,y:T.y1-5,'font-size':12,'font-weight':'bold','text-anchor':'middle'},pg);
  
  e=tx(T.vals[i],{x:(T.xs[i]+T.xs[i+1])/2,y:T.y2-5,'font-size':12,'text-anchor':'middle'},pg);
  });
 e=tx(T.label,{x:T.lx,y:T.y2-5,'font-size':11,'text-anchor':'end',fill:'#00e000'},pg);
 
}
gsea({id:'e',ox:108,top:2544,bot:2859,y0:2788,k:500,rugB:2936,colB:2970,bT:2973,bB:3184,z:3033,mk:6.6,
 title:['Extracellular Matrix Disassembly'],tx:448,ty:2538,nes:'NES=1.68',nx:159,ny:2751,
 tab:{cols:['pvalue','p.adjust'],vals:['0.00211','0.04194'],xs:[673,731,794],y0:2580,y1:2599,y2:2618,label:'extracellular matrix disassembly',lx:661}},
 esRankE,esValE,hitsE,1,segE,true);
gsea({id:'f',ox:1073,top:2550,bot:2868,y0:2816,k:660,rugB:2948,colB:2979,bT:2982,bB:3195,z:3042,mk:6.8,
 title:['Extracellular Structure Organization'],tx:1417,ty:2539,nes:'NES=1.74',nx:1126,ny:2751,
 tab:{cols:['pvalue','p.adjust'],vals:['1.067e\u221207','1.214e\u221205'],xs:[1633,1708,1783],y0:2571,y1:2590,y2:2609,label:'extracellular structure organization',lx:1621}},
 esRankF,esValF,hitsF,100,segF,false);
gsea({id:'g',ox:2042,top:2543,bot:2859,y0:2808,k:656,rugB:2937,colB:2971,bT:2973,bB:3187,z:3034,mk:6.8,
 title:['Extracellular Matrix Organization'],tx:2387,ty:2538,nes:'NES=1.75',nx:2094,ny:2750,
 tab:{cols:['pvalue','p.adjust'],vals:['5.723e\u221208','7.78e\u221206'],xs:[2600,2672,2740],y0:2562,y1:2582,y2:2601,label:'extracellular matrix organization',lx:2588}},
 esRankG,esValG,hitsG,100,segG,false);
gsea({id:'h',ox:106,top:3316,bot:3629,y0:3575,k:626,rugB:3706,colB:3738,bT:3740,bB:3951,z:3800,mk:6.7,
 title:['Regulation of transforming growth factor','beta receptor signaling pathway'],tx:485,ty:3290,nes:'NES=1.66',nx:159,ny:3563,
 tab:{cols:['pvalue'],vals:['0.000296'],xs:[782,846],y0:3329,y1:3347,y2:3366,label:'gulation of transforming growth factor beta receptor signaling pathway',lx:755}},
 esRankH,esValH,hitsH,100,segH,true);
gsea({id:'i',ox:1075,top:3317,bot:3630,y0:3555,k:733,rugB:3708,colB:3740,bT:3742,bB:3956,z:3803,mk:6.8,
 title:['Cellular response to transforming growth','factor beta stimulus'],tx:1453,ty:3290,nes:'NES=1.60',nx:1126,ny:3563,
 tab:{cols:['pvalue','p.adj'],vals:['0.0003932','0.011'],xs:[1701,1775,1803],y0:3336,y1:3355,y2:3374,label:'egulation of cellular response to growth factor stimulus',lx:1681}},
 esRankI,esValI,hitsI,100,segI,false);
gsea({id:'j',ox:2046,top:3317,bot:3630,y0:3558,k:705,rugB:3711,colB:3742,bT:3744,bB:3958,z:3806,mk:6.8,
 title:['Transforming growth factor beta receptor','superfamily signaling pathwa'],tx:2424,ty:3290,nes:'NES=1.49',nx:2094,ny:3563,
 tab:{cols:['pvalue'],vals:['0.0001892'],xs:[2711,2782],y0:3330,y1:3349,y2:3368,label:'ansforming growth factor beta receptor superfamily signaling pathway',lx:2687}},
 esRankJ,esValJ,hitsJ,100,segJ,false);
</script>
</body></html>
